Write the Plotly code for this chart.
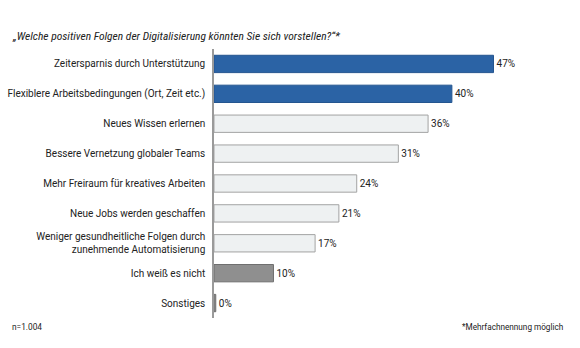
import plotly.graph_objects as go

categories = [
    "Zeitersparnis durch Unterstützung",
    "Flexiblere Arbeitsbedingungen (Ort, Zeit etc.)",
    "Neues Wissen erlernen",
    "Bessere Vernetzung globaler Teams",
    "Mehr Freiraum für kreatives Arbeiten",
    "Neue Jobs werden geschaffen",
    "Weniger gesundheitliche Folgen durch<br>zunehmende Automatisierung",
    "Ich weiß es nicht",
    "Sonstiges",
]
values = [47, 40, 36, 31, 24, 21, 17, 10, 0.3]
value_labels = ["47%", "40%", "36%", "31%", "24%", "21%", "17%", "10%", "0%"]
groups = ["top", "top", "other", "other", "other", "other", "other", "dk", "dk"]

fill = {"top": "#2b63a5", "other": "#eef1f2", "dk": "#8f8f8f"}
edge = {"top": "#24558f", "other": "#a3a3a3", "dk": "#6f6f6f"}

font_title = "Roboto Condensed, Liberation Sans Narrow, Roboto, sans-serif"
font_main = "Roboto, sans-serif"

fig = go.Figure(
    go.Bar(
        x=values,
        y=categories,
        orientation="h",
        text=value_labels,
        textposition="outside",
        cliponaxis=False,
        textfont=dict(family=font_main, size=10, color="#222"),
        marker=dict(
            color=[fill[g] for g in groups],
            line=dict(color=[edge[g] for g in groups], width=1),
        ),
        width=0.58,
    )
)

fig.update_layout(
    width=580,
    height=348,
    margin=dict(l=214, r=30, t=49, b=30, autoexpand=False),
    paper_bgcolor="white",
    plot_bgcolor="white",
    showlegend=False,
    font=dict(family=font_main, size=10, color="#222"),
    xaxis=dict(range=[0, 56.5], visible=False, fixedrange=True, automargin=False),
    yaxis=dict(
        autorange="reversed",
        automargin=False,
        showline=True,
        linecolor="#9a9a9a",
        linewidth=1.5,
        showgrid=False,
        ticks="",
        ticklabelstandoff=5,
        tickfont=dict(family=font_main, size=10, color="#222"),
    ),
    annotations=[
        dict(
            text="<i>„Welche positiven Folgen der Digitalisierung könnten Sie sich vorstellen?“*</i>",
            xref="paper", yref="paper", x=-214/336, y=1 + 13/269,
            xanchor="left", yanchor="middle", showarrow=False,
            font=dict(family=font_title, size=11.5, color="#222"),
            xshift=10,
        ),
        dict(
            text="n=1.004",
            xref="paper", yref="paper", x=-214/336, y=-9/269,
            xanchor="left", yanchor="middle", showarrow=False,
            font=dict(family=font_main, size=8.3, color="#222222"),
            xshift=10,
        ),
        dict(
            text="*Mehrfachnennung möglich",
            xref="paper", yref="paper", x=1 + 30/336, y=-9/269,
            xanchor="right", yanchor="middle", showarrow=False,
            font=dict(family=font_main, size=8.2, color="#222222"),
            xshift=-15,
        ),
    ],
)

fig.write_html("out.html")
